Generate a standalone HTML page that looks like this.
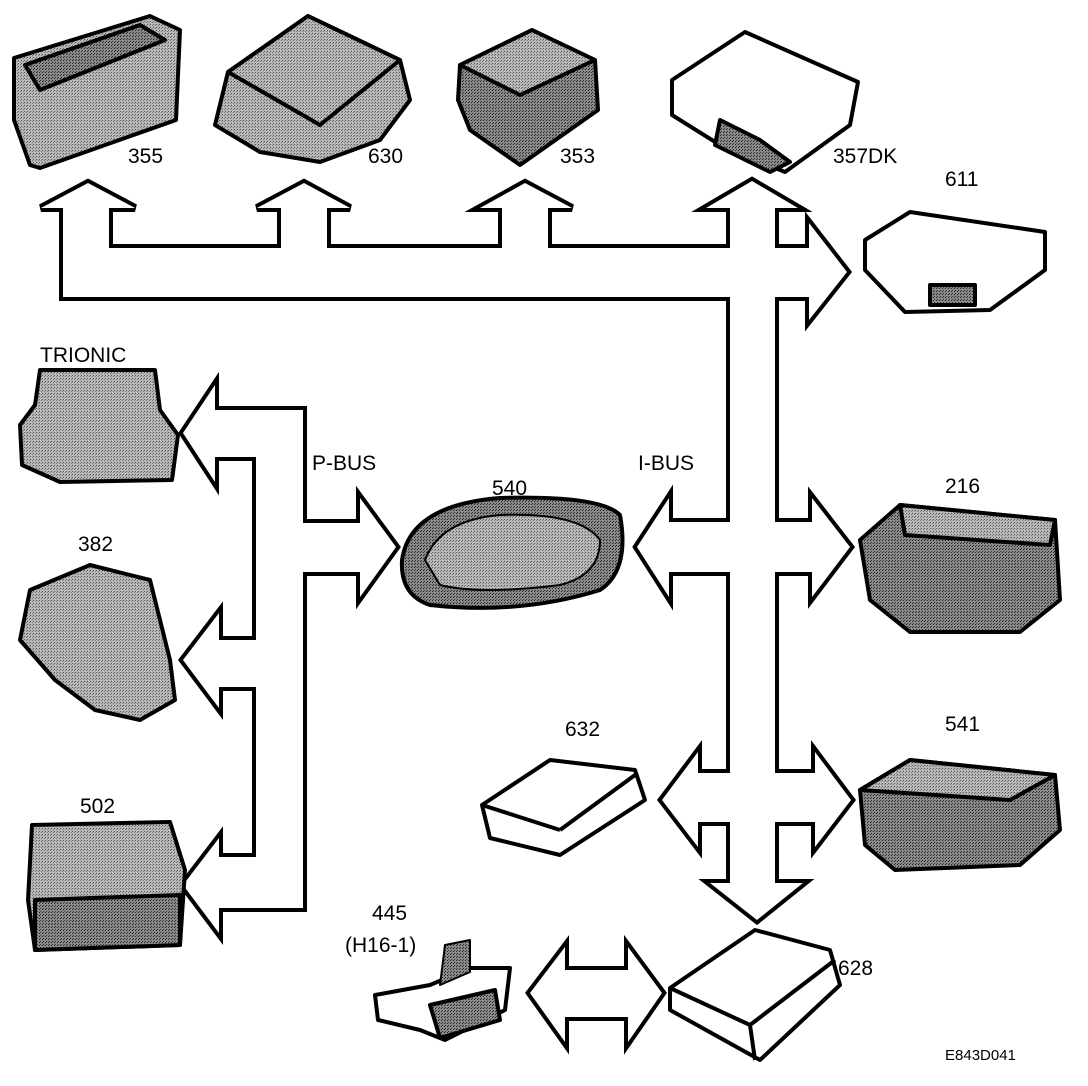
<!DOCTYPE html>
<html><head><meta charset="utf-8"><style>
html,body{margin:0;padding:0;background:#fff;}
svg{display:block;}
text{font-family:"Liberation Sans",sans-serif;font-size:21px;fill:#000;}
</style></head><body>
<svg width="1088" height="1086" viewBox="0 0 1088 1086" xmlns="http://www.w3.org/2000/svg">
<defs>
<pattern id="g" width="3" height="3" patternUnits="userSpaceOnUse"><rect width="3" height="3" fill="#b8b8b8"/><rect width="1" height="1" fill="#555"/><rect x="2" y="1" width="1" height="1" fill="#777"/></pattern>
<pattern id="d" width="3" height="3" patternUnits="userSpaceOnUse"><rect width="3" height="3" fill="#8a8a8a"/><rect width="1" height="1" fill="#222"/><rect x="1" y="2" width="1" height="1" fill="#333"/></pattern>
<g id="bus">
<rect x="63" y="248" width="712" height="49"/>
<rect x="63" y="205" width="46" height="60"/><polygon points="41,208 88,183 135,208"/>
<rect x="281" y="205" width="46" height="60"/><polygon points="257,208 304,183 350,208"/>
<rect x="502" y="205" width="46" height="60"/><polygon points="480,208 525,183 572,208"/>
<rect x="730" y="205" width="45" height="680"/><polygon points="706,208 752,181 798,208"/>
<rect x="760" y="248" width="52" height="49"/><polygon points="809,223 847,272 809,320"/>
<rect x="665" y="522" width="80" height="50"/><polygon points="669,498 637,547 669,597"/>
<rect x="760" y="522" width="55" height="50"/><polygon points="812,498 850,547 812,597"/>
<rect x="695" y="773" width="50" height="49"/><polygon points="698,752 662,800 698,847"/>
<rect x="760" y="773" width="58" height="49"/><polygon points="815,752 851,800 815,847"/>
<polygon points="710,883 803,883 757,920"/>
<rect x="256" y="410" width="47" height="498"/>
<rect x="212" y="410" width="70" height="47"/><polygon points="215,385 183,433 215,482"/>
<rect x="280" y="523" width="82" height="49"/><polygon points="360,498 396,547 360,597"/>
<rect x="214" y="640" width="60" height="47"/><polygon points="219,613 183,660 219,708"/>
<rect x="214" y="857" width="89" height="51"/><polygon points="219,838 183,885 219,933"/>
<rect x="560" y="970" width="72" height="47"/><polygon points="565,947 530,993 565,1042"/><polygon points="628,947 662,993 628,1042"/>
</g>
</defs>
<use href="#bus" fill="#000" stroke="#000" stroke-width="8" stroke-linejoin="miter"/>
<use href="#bus" fill="#fff" stroke="none"/>

<g stroke="#000" stroke-width="4" stroke-linejoin="round">
<!-- 355 -->
<polygon points="14,58 150,16 180,30 176,120 40,168 30,165 14,120" fill="url(#g)"/>
<polygon points="25,65 140,25 165,40 40,90" fill="url(#d)"/>
<!-- 630 -->
<polygon points="228,72 308,16 400,60 410,100 380,140 320,162 260,152 215,125" fill="url(#g)"/>
<polygon points="228,72 308,16 400,60 320,125" fill="url(#g)"/>
<!-- 353 -->
<polygon points="460,65 532,30 595,60 598,110 520,165 470,130 458,100" fill="url(#d)"/>
<polygon points="460,65 532,30 595,60 520,95" fill="url(#g)"/>
<!-- 357DK -->
<polygon points="672,80 745,32 858,82 850,125 785,172 720,145 672,115" fill="#fff"/>
<polygon points="720,120 760,140 790,162 770,172 715,145" fill="url(#d)"/>
<!-- 611 -->
<polygon points="865,240 910,212 1045,232 1045,270 990,310 905,312 865,270" fill="#fff"/>
<polygon points="930,285 975,285 975,305 930,305" fill="url(#d)"/>
<!-- TRIONIC -->
<polygon points="40,370 155,370 160,410 178,435 172,480 60,482 22,465 20,425 35,405" fill="url(#g)"/>
<!-- 382 -->
<polygon points="30,590 90,565 150,580 170,660 175,700 140,720 95,710 55,680 20,640" fill="url(#g)"/>
<!-- 502 -->
<polygon points="32,825 170,822 185,870 180,945 35,950 28,900" fill="url(#g)"/>
<polygon points="35,900 180,895 180,945 35,950" fill="url(#d)"/>
<!-- 540 -->
<path d="M402,560 Q410,505 500,498 Q600,495 620,515 Q630,570 600,590 Q520,615 430,605 Q400,595 402,560Z" fill="url(#d)"/>
<path d="M425,560 Q440,520 500,515 Q580,512 600,540 Q600,575 560,585 Q480,595 440,585Z" fill="url(#g)" stroke-width="2"/>
<!-- 216 -->
<polygon points="860,540 900,505 1055,520 1060,600 1020,632 910,632 870,600" fill="url(#d)"/>
<polygon points="900,505 1055,520 1050,545 905,535" fill="url(#g)"/>
<!-- 632 -->
<polygon points="482,805 550,760 635,770 645,800 560,855 490,838" fill="#fff"/>
<line x1="482" y1="805" x2="560" y2="830"/><line x1="560" y1="830" x2="635" y2="775"/>
<!-- 541 -->
<polygon points="860,790 910,760 1055,775 1060,830 1020,865 895,870 865,845" fill="url(#d)"/>
<polygon points="860,790 910,760 1055,775 1010,800" fill="url(#g)"/>
<!-- 445 -->
<polygon points="375,995 430,985 470,968 510,968 505,1010 445,1040 420,1030 378,1020" fill="#fff"/>
<polygon points="430,1005 495,990 500,1020 440,1038" fill="url(#d)"/>
<polygon points="440,985 445,945 470,940 470,972" fill="url(#d)" stroke-width="2"/>
<!-- 628 -->
<polygon points="670,988 755,930 830,950 840,985 760,1060 670,1010" fill="#fff"/>
<line x1="670" y1="988" x2="750" y2="1025"/><line x1="750" y1="1025" x2="835" y2="960"/><line x1="750" y1="1025" x2="755" y2="1060"/>
</g>

<text x="128" y="163">355</text>
<text x="368" y="163">630</text>
<text x="560" y="163">353</text>
<text x="833" y="163">357DK</text>
<text x="945" y="186">611</text>
<text x="40" y="362">TRIONIC</text>
<text x="312" y="470">P-BUS</text>
<text x="492" y="495">540</text>
<text x="638" y="470">I-BUS</text>
<text x="945" y="493">216</text>
<text x="78" y="551">382</text>
<text x="565" y="736">632</text>
<text x="945" y="731">541</text>
<text x="80" y="813">502</text>
<text x="372" y="920">445</text>
<text x="345" y="952">(H16-1)</text>
<text x="838" y="975">628</text>
<text x="945" y="1060" style="font-size:15px">E843D041</text>
</svg>
</body></html>
